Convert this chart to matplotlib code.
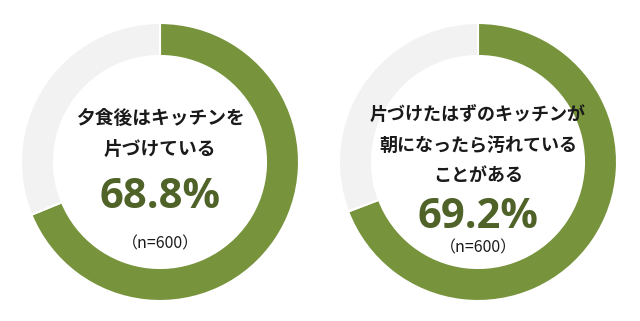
import matplotlib
matplotlib.use('Agg')
import matplotlib.pyplot as plt

plt.rcParams['font.family'] = ['Noto Sans CJK JP', 'DejaVu Sans']

# survey results
questions = ['夕食後はキッチンを\n片づけている',
             '片づけたはずのキッチンが\n朝になったら汚れている\nことがある']
percent = [68.8, 69.2]
n_resp = [600, 600]

green = '#77933c'
grey = '#f2f2f2'
dark_green = '#4f6228'

fig = plt.figure(figsize=(6.4, 3.21), dpi=100)
ax = fig.add_axes([0, 0, 1, 1])

centers = [(160, 159), (478, 159)]
radius = 139

# text layout (y of question block centre, percent, n label)
layout = [(187, 124, 77), (176, 104, 73)]
qsize = [13.5, 13]

for i, (cx, cy) in enumerate(centers):
    ax.pie([percent[i], 100 - percent[i]], colors=[green, grey],
           startangle=90, counterclock=False, radius=radius, center=(cx, cy),
           wedgeprops=dict(width=33, edgecolor='white', linewidth=1.5),
           frame=True)
    qy, py, ny = layout[i]
    ax.text(cx, qy, questions[i], ha='center', va='center', fontsize=qsize[i],
            fontweight='bold', color='#1a1a1a', linespacing=1.75)
    ax.text(cx, py, f'{percent[i]}%', ha='center', va='center',
            fontsize=30, fontweight='bold', color=dark_green, family='Open Sans')
    ax.text(cx, ny, f'（n={n_resp[i]}）', ha='center', va='center',
            fontsize=11.5, color='#1a1a1a')

ax.set_xlim(0, 640)
ax.set_ylim(0, 321)
ax.set_aspect('equal')
ax.axis('off')
fig.savefig('out.png', dpi=100)
